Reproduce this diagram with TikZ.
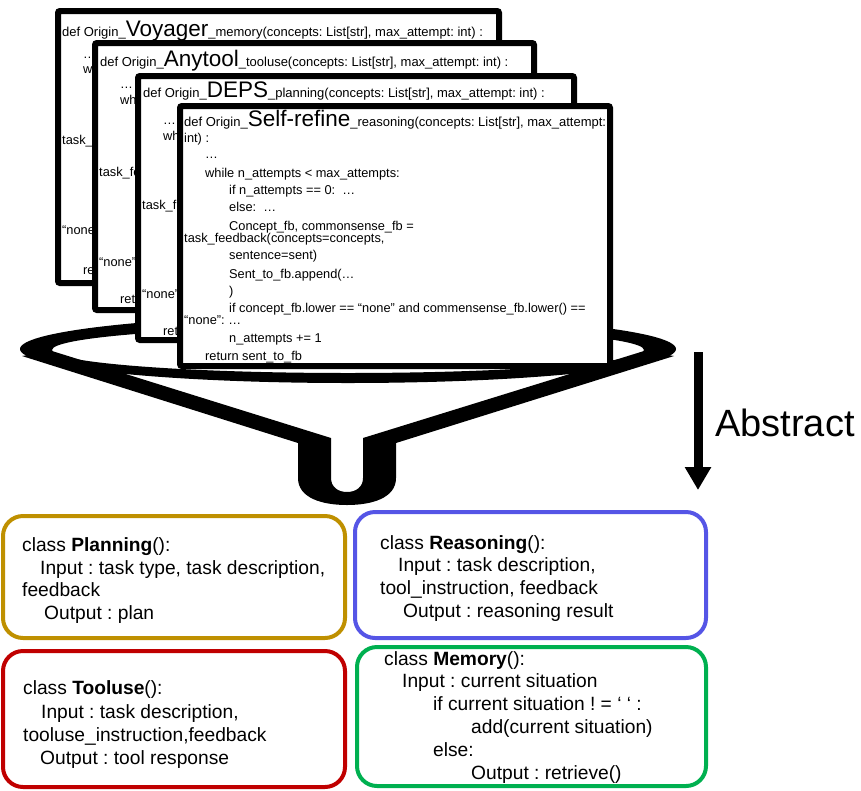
\documentclass[tikz,border=0pt]{standalone}
\usepackage{fontspec}
\setmainfont{Liberation Sans}
\usetikzlibrary{arrows.meta}

\definecolor{planGold}{RGB}{191,144,0}
\definecolor{toolRed}{RGB}{192,0,0}
\definecolor{reasonBlue}{RGB}{85,85,230}
\definecolor{memGreen}{RGB}{0,176,80}

\newcommand\codefont{\fontsize{12.8}{13}\selectfont}
\newcommand\titlefont{\fontsize{13}{15}\selectfont}
\newcommand\namefont{\fontsize{22.5}{24}\selectfont}
\newcommand\boxfont{\fontsize{19.2}{23}\selectfont}

\tikzset{
  card/.style={draw=black, line width=6pt, fill=white, rounded corners=2pt,
    anchor=north west, outer sep=0pt, inner sep=0pt},
  codeline/.style={anchor=base west, inner sep=0pt, font=\codefont},
  titleline/.style={anchor=base west, inner sep=0pt, font=\titlefont},
  classbox/.style={draw=#1, line width=4pt, rounded corners=20pt,
    anchor=north west, outer sep=0pt, inner sep=0pt},
  boxline/.style={anchor=base west, inner sep=0pt, font=\boxfont},
}

\begin{document}
\frenchspacing
\begin{tikzpicture}[x=1pt,y=-1pt]
\useasboundingbox (0,0) rectangle (861,790);

% ---------- funnel ----------
\fill[black, even odd rule]
  (348,349) ellipse [x radius=328, y radius=34]
  (348,350) ellipse [x radius=296, y radius=23];
\fill[black]
  (22,356) -- (298,443) -- (298,478)
  .. controls (298,498) and (322,505) .. (347,505)
  .. controls (372,505) and (396,498) .. (396,478)
  -- (396,443) -- (674,356) -- (644,351) -- (363,438) -- (363,478)
  .. controls (363,487) and (356,492) .. (347,492)
  .. controls (338,492) and (331,487) .. (331,478)
  -- (331,438) -- (52,351) -- cycle;

% ---------- stacked code cards ----------
\node[card, minimum width=441pt, minimum height=272pt] (voyager) at (58,11) {};
\node[titleline] (voyager-title) at (62,36)
  {def Origin\_{\namefont Voyager}\_memory(concepts: List[str], max\_attempt: int) :};
\foreach \px/\py/\txt [count=\k] in
  {83/58/{…}, 83/73/{w}, 62/144/{task\_}, 62/234/{“none}, 83/274/{re}}
  \node[codeline] (voyager-\k) at (\px,\py) {\txt};

\node[card, minimum width=439pt, minimum height=267pt] (anytool) at (95,43) {};
\node[titleline] (anytool-title) at (100,66)
  {def Origin\_{\namefont Anytool}\_tooluse(concepts: List[str], max\_attempt: int) :};
\foreach \px/\py/\txt [count=\k] in
  {120/88/{…}, 120/104/{wh}, 99/176/{task\_fe}, 99/266/{“none”}, 120/303/{ret}}
  \node[codeline] (anytool-\k) at (\px,\py) {\txt};

\node[card, minimum width=436pt, minimum height=264pt] (deps) at (138,76) {};
\node[titleline] (deps-title) at (143,97)
  {def Origin\_{\namefont DEPS}\_planning(concepts: List[str], max\_attempt: int) :};
\foreach \px/\py/\txt [count=\k] in
  {163/124/{…}, 163/140/{wh}, 142/209/{task\_f}, 142/298/{“none”}, 163/335/{ret}}
  \node[codeline] (deps-\k) at (\px,\py) {\txt};

\node[card, minimum width=430pt, minimum height=260pt] (selfrefine) at (180,106) {};
\node[titleline] (selfrefine-title) at (184,126)
  {def Origin\_{\namefont Self-refine}\_reasoning(concepts: List[str], max\_attempt:};
\foreach \px/\py/\txt [count=\k] in {
  184/142/{int) :},
  205/158/{…},
  205/177/{while n\_attempts < max\_attempts:},
  229/194/{if n\_attempts == 0:~~…},
  229/211/{else:~~…},
  229/230/{Concept\_fb, commonsense\_fb =},
  184/242/{task\_feedback(concepts=concepts,},
  229/259/{sentence=sent)},
  229/278/{Sent\_to\_fb.append(…},
  229/295/{)},
  229/312/{if concept\_fb.lower == “none” and commensense\_fb.lower() ==},
  184/324/{“none”: …},
  229/342/{n\_attempts += 1},
  205/360/{return sent\_to\_fb}}
  \node[codeline] (selfrefine-\k) at (\px,\py) {\txt};

% ---------- abstraction arrow ----------
\coordinate (abs-top) at (698,352);
\coordinate (abs-tip) at (698,490);
\draw[line width=9pt, -{Triangle[width=25pt,length=23pt]}] (abs-top) -- (abs-tip);
\node[anchor=base west, inner sep=0pt, font=\fontsize{38}{40}\selectfont]
  (abstract) at (715,436) {Abstract};

% ---------- module classes ----------
\node[classbox=planGold, minimum width=342pt, minimum height=122pt] (planning) at (3,516) {};
\foreach \px/\py/\txt [count=\k] in {
  22/551/{class \textbf{Planning}():},
  40/574/{Input : task type, task description,},
  22/596/{feedback},
  44/619/{Output : plan}}
  \node[boxline] (planning-\k) at (\px,\py) {\txt};

\node[classbox=toolRed, minimum width=342pt, minimum height=136pt] (tooluse) at (3,651) {};
\foreach \px/\py/\txt [count=\k] in {
  23/694/{class \textbf{Tooluse}():},
  41/718/{Input : task description,},
  23/741/{tooluse\_instruction,feedback},
  40/764/{Output : tool response}}
  \node[boxline] (tooluse-\k) at (\px,\py) {\txt};

\node[classbox=reasonBlue, minimum width=351pt, minimum height=126pt] (reasoning) at (355,512) {};
\foreach \px/\py/\txt [count=\k] in {
  380/549/{class \textbf{Reasoning}():},
  398/571/{Input : task description,},
  380/594/{tool\_instruction, feedback},
  403/617/{Output : reasoning result}}
  \node[boxline] (reasoning-\k) at (\px,\py) {\txt};

\node[classbox=memGreen, minimum width=349pt, minimum height=139pt] (memory) at (357,647) {};
\foreach \px/\py/\txt [count=\k] in {
  384/665/{class \textbf{Memory}():},
  402/687/{Input : current situation},
  433/710/{if current situation ! = ‘ ‘ :},
  471/733/{add(current situation)},
  433/756/{else:},
  471/779/{Output : retrieve()}}
  \node[boxline] (memory-\k) at (\px,\py) {\txt};

\end{tikzpicture}
\end{document}
